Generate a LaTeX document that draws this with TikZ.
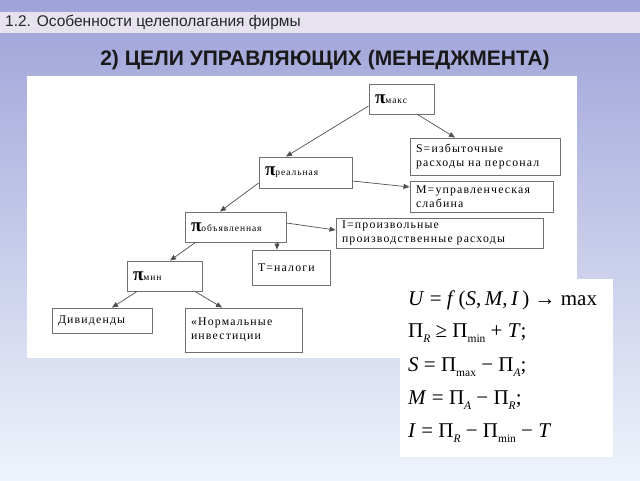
\documentclass[tikz,border=0pt]{standalone}
\usepackage{fontspec}
\setmainfont{Liberation Serif}
\newfontfamily\hsans{Liberation Sans}
\newfontfamily\boxfont[LetterSpace=10]{Liberation Serif}
\usetikzlibrary{arrows.meta}
\definecolor{bgtop}{HTML}{9EA2D8}
\definecolor{bgmid}{HTML}{C2C8EC}
\definecolor{bgbot}{HTML}{EEF4FB}
\definecolor{hdr}{HTML}{E6E2EE}
\definecolor{boxline}{HTML}{707070}
\definecolor{arrline}{HTML}{505050}
\newcommand{\pisub}[1]{{\fontsize{19}{19}\selectfont\bfseries π}{\boxfont\fontsize{9.5}{9.5}\selectfont #1}}
\newcommand{\lowsub}[1]{\raisebox{-4.5pt}{\fontsize{11.5}{11.5}\selectfont #1}}
\begin{document}
\begin{tikzpicture}[x=1pt,y=-1pt,
  box/.style={draw=boxline, line width=0.9pt, fill=white, inner xsep=6pt, inner ysep=2pt,
    align=left, font=\boxfont\fontsize{11.8}{13.5}\selectfont},
  conn/.style={draw=arrline, line width=0.7pt, -{Triangle[length=6pt,width=5pt]}},
  formula/.style={anchor=west, inner sep=0pt, font=\fontsize{21}{21}\selectfont}]
\useasboundingbox (0,0) rectangle (640,480);
\shade[top color=bgtop, middle color=bgmid, bottom color=bgbot] (0,0) rectangle (640,480);
\fill[hdr] (0,12) rectangle (640,33);
\node[anchor=west, inner sep=0pt, font=\hsans\fontsize{15.5}{17}\selectfont, text=black!85] (hdrtext) at (5,22.5) {1.2. Особенности целеполагания фирмы};
\node[inner sep=0pt, font=\hsans\bfseries\fontsize{21}{23}\selectfont, text=black!90] (title) at (325,60) {2) ЦЕЛИ УПРАВЛЯЮЩИХ (МЕНЕДЖМЕНТА)};
\fill[white] (27,76) rectangle (577,358);
\fill[white] (400,279) rectangle (613,457);

% diagram boxes
\node[box, minimum width=65pt, minimum height=30pt, text width=53pt] (pmax) at (401.5,99) {\pisub{макс}};
\node[box, minimum width=150pt, minimum height=37pt, text width=138pt] (S) at (485,156.5) {S=избыточные\\расходы на персонал};
\node[box, minimum width=93pt, minimum height=31pt, text width=81pt] (preal) at (305.5,172.5) {\pisub{реальная}};
\node[box, minimum width=143pt, minimum height=31pt, text width=131pt] (M) at (481.5,196.5) {M=управленческая\\слабина};
\node[box, minimum width=101pt, minimum height=30pt, text width=89pt] (pobj) at (235.5,227) {\pisub{объявленная}};
\node[box, minimum width=207pt, minimum height=30pt, text width=195pt] (I) at (439.5,233) {I=произвольные\\производственные расходы};
\node[box, minimum width=78pt, minimum height=35pt, text width=66pt] (T) at (291,267.5) {Т=налоги\\[4pt]};
\node[box, minimum width=75pt, minimum height=30pt, text width=63pt] (pmin) at (164.5,276) {\pisub{мин}};
\node[box, minimum width=100pt, minimum height=25pt, text width=88pt] (div) at (102,320.5) {Дивиденды};
\node[box, minimum width=117pt, minimum height=44pt, text width=105pt] (norm) at (243.5,330) {«Нормальные\\инвестиции\\[9pt]};

% connectors
\draw[conn] ([yshift=-7pt]pmax.west) -- ([xshift=-19.5pt]preal.north);
\draw[conn] ([xshift=16pt]pmax.south) -- ([xshift=-30pt]S.north);
\draw[conn] ([yshift=-8.5pt]preal.east) -- ([yshift=9.5pt]M.west);
\draw[conn] ([yshift=-10.5pt]preal.west) -- ([xshift=-15.5pt]pobj.north);
\draw[conn] ([yshift=4pt]pobj.east) -- ([yshift=3pt]I.west);
\draw[conn] ([xshift=41.5pt]pobj.south) -- ([xshift=-14pt]T.north);
\draw[conn] ([xshift=-40pt]pobj.south) -- ([xshift=5.5pt]pmin.north);
\draw[conn] ([xshift=-27.5pt]pmin.south) -- ([xshift=10pt]div.north);
\draw[conn] ([xshift=30.5pt]pmin.south) -- ([xshift=-21.5pt]norm.north);

% formulas
\node[formula] (f1) at (408,300) {\textit{U} = \textit{f}\,(\textit{S},\,\textit{M},\,\textit{I}\,) → max};
\node[formula] (f2) at (408,333) {Π\lowsub{\textit{R}} ≥ Π\lowsub{min} + \textit{T};};
\node[formula] (f3) at (408,367) {\textit{S} = Π\lowsub{max} − Π\lowsub{\textit{A}};};
\node[formula] (f4) at (408,400) {\textit{M} = Π\lowsub{\textit{A}} − Π\lowsub{\textit{R}};};
\node[formula] (f5) at (408,433) {\textit{I} = Π\lowsub{\textit{R}} − Π\lowsub{min} − \textit{T}};
\end{tikzpicture}
\end{document}
